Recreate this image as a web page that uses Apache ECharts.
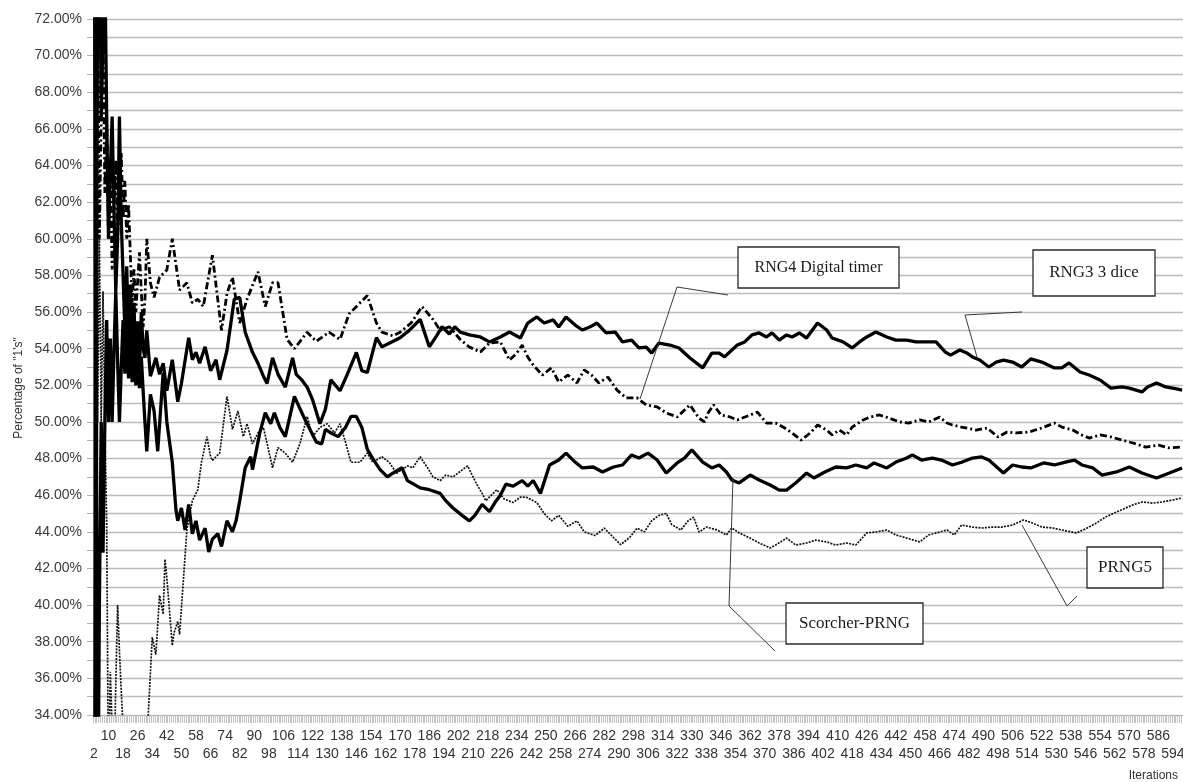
<!DOCTYPE html>
<html>
<head>
<meta charset="utf-8">
<title>Percentage of "1's"</title>
<script src="https://cdn.jsdelivr.net/npm/echarts@6/dist/echarts.min.js"></script>
<style>
  html, body { margin: 0; padding: 0; background: #fff; }
  #chart { width: 1183px; height: 782px; }
</style>
</head>
<body>
<div id="chart"></div>
<script>
// iterations shown on the x axis (one category per iteration)
const firstIteration = 2;
const lastIteration = 599;
const iterations = [];
for (let i = firstIteration; i <= lastIteration; i++) iterations.push(String(i));

// percentage of 1's as [iteration, percent]
const rng3 = [
  [2,100],[3,33.33],[4,75],[5,80],[6,66.67],[7,71.43],[8,75],[9,66.67],[10,60],[11,63.64],[12,66.67],[13,61.54],[14,57.14],[15,60],[16,66.67],[17,61],[18,58],[19,55],[20,58.5],[21,54],[22,57.5],[23,53],[24,56.5],[25,52.5],[26,55.5],[27,53],[28,56],[29,54],[30,53.5],[31,55],[33,52.5],[36,53.5],[38,52.6],[40,53.2],[42,51.7],[45,53.4],[48,51.1],[50,52.1],[54,54.6],[56,53.4],[58,53.8],[60,53.2],[63,54.1],[66,52.8],[69,53.4],[71,52.3],[75,53.9],[79,56.7],[82,56.8],[85,54.9],[89,53.8],[92,53.2],[95,52.5],[97,52.1],[100,53.5],[103,52.6],[107,51.9],[111,53.5],[113,52.6],[116,52.3],[119,51.9],[122,51.2],[126,49.9],[129,50.7],[132,52.3],[137,51.7],[141,52.6],[146,53.8],[149,52.8],[152,52.7],[157,54.6],[160,54.1],[164,54.3],[170,54.6],[175,55.0],[181,55.6],[186,54.1],[190,54.7],[193,55.2],[197,54.8],[200,55.2],[203,54.9],[208,54.75],[214,54.64],[219,54.37],[225,54.64],[230,54.91],[236,54.58],[240,55.4],[245,55.73],[249,55.4],[254,55.57],[257,55.18],[261,55.73],[266,55.29],[270,55.02],[274,55.18],[278,55.4],[283,54.86],[288,54.91],[292,54.37],[297,54.47],[301,54.04],[305,54.09],[308,53.76],[312,54.31],[318,54.2],[323,54.04],[329,53.49],[336,52.95],[341,53.76],[345,53.76],[348,53.55],[352,53.93],[355,54.2],[359,54.37],[363,54.75],[367,54.86],[371,54.64],[374,54.86],[378,54.47],[382,54.75],[385,54.64],[389,54.86],[393,54.58],[399,55.4],[404,55.02],[407,54.58],[413,54.37],[418,54.04],[422,54.37],[426,54.64],[431,54.91],[437,54.64],[442,54.47],[448,54.47],[453,54.37],[459,54.37],[464,54.37],[469,53.82],[472,53.65],[477,53.93],[481,53.76],[484,53.55],[488,53.38],[493,53.0],[497,53.27],[501,53.38],[506,53.27],[511,53.0],[516,53.44],[522,53.27],[529,52.95],[533,52.95],[537,53.22],[543,52.73],[548,52.56],[554,52.29],[560,51.85],[566,51.91],[570,51.85],[577,51.64],[580,51.91],[585,52.13],[590,51.91],[596,51.8],[599,51.74]
];
const scorcher = [
  [2,0],[3,66.67],[4,25],[5,40],[6,50],[7,42.86],[8,50],[9,55.56],[10,50],[11,54.55],[12,50],[13,53.85],[14,57.14],[15,53.33],[16,50],[17,52.94],[18,55.56],[19,52.63],[20,55],[21,52.38],[22,54.55],[23,52.17],[24,54.17],[25,52],[26,53.85],[27,51.85],[28,53.57],[29,51.72],[30,50],[31,48.39],[33,51.5],[35,50.6],[37,48.4],[40,52.7],[42,50],[45,47.8],[47,45.2],[48,44.6],[50,45.3],[52,44.1],[54,45.5],[56,43.9],[58,44.6],[60,43.55],[63,44.2],[65,42.9],[67,43.6],[70,43.9],[72,43.2],[75,44.6],[78,44.0],[80,44.6],[82,45.7],[85,47.5],[88,48.1],[89,47.4],[93,49.4],[96,50.5],[99,49.9],[101,50.5],[104,49.7],[107,49.2],[112,51.4],[117,50.3],[120,49.7],[124,48.9],[127,48.8],[129,49.6],[132,49.4],[136,49.2],[140,49.7],[143,50.3],[146,50.3],[149,49.7],[152,48.5],[155,48.0],[159,47.4],[163,47.0],[166,47.2],[171,47.5],[174,46.8],[181,46.4],[186,46.3],[192,46.1],[195,45.7],[199,45.3],[204,44.9],[208,44.6],[211,44.9],[215,45.5],[219,45.1],[222,45.6],[225,46.0],[228,46.6],[232,46.5],[237,46.8],[240,46.5],[243,46.8],[247,46.1],[252,47.65],[257,47.92],[261,48.3],[266,47.81],[270,47.49],[276,47.54],[281,47.27],[287,47.54],[292,47.65],[297,48.2],[301,48.03],[306,48.3],[311,47.92],[316,47.21],[322,47.76],[326,48.03],[330,48.47],[336,47.81],[341,47.49],[345,47.65],[349,47.27],[352,46.83],[356,46.67],[362,47.1],[367,46.83],[373,46.56],[378,46.28],[382,46.28],[387,46.67],[393,47.21],[397,46.94],[403,47.27],[409,47.54],[415,47.49],[420,47.65],[426,47.49],[430,47.76],[437,47.49],[442,47.81],[448,48.03],[451,48.2],[456,47.92],[462,48.03],[467,47.92],[473,47.65],[478,47.8],[484,48.03],[489,48.09],[493,47.92],[501,47.21],[506,47.65],[511,47.54],[516,47.49],[523,47.76],[529,47.65],[535,47.81],[540,47.92],[544,47.65],[550,47.49],[555,47.1],[563,47.27],[570,47.54],[577,47.21],[585,46.94],[592,47.21],[599,47.49]
];
const rng4 = [
  [2,100],[3,66.67],[4,75],[5,60],[6,66.67],[7,71.43],[8,62.5],[9,66.67],[10,60],[11,63.64],[12,58.33],[13,61.54],[14,64.29],[15,60],[16,62.5],[17,64.71],[18,61.11],[19,63.16],[20,60],[21,61.9],[22,59.09],[23,56.52],[24,58.33],[25,56],[26,57.69],[27,59.26],[28,57.14],[29,55.17],[30,56.67],[31,60],[33,57.6],[35,56.8],[38,57.9],[42,58.3],[45,60],[49,57.2],[53,57.6],[56,56.5],[59,56.7],[62,56.3],[67,59.1],[72,55],[75,57],[78,57.9],[82,55.4],[86,56.7],[92,58.2],[96,56.3],[100,57.6],[103,57.6],[108,54.5],[112,54],[119,54.9],[124,54.4],[131,54.9],[137,54.5],[142,55.9],[152,56.9],[157,55.4],[160,54.9],[166,54.7],[170,54.9],[176,55.4],[182,56.3],[188,55.6],[192,55],[197,55.2],[203,54.5],[208,54.09],[214,53.82],[219,54.31],[225,54.37],[230,53.38],[234,53.76],[237,54.2],[240,53.55],[243,53.11],[248,52.56],[253,52.95],[257,52.18],[262,52.56],[267,52.13],[271,52.84],[275,52.56],[279,52.13],[284,52.45],[289,51.74],[294,51.31],[300,51.31],[305,50.93],[311,50.82],[316,50.49],[322,50.27],[329,50.93],[334,50.2],[337,50],[339,50.5],[342,50.93],[346,50.38],[351,50.27],[355,50.11],[362,50.38],[366,50.54],[371,49.94],[376,49.94],[381,49.67],[385,49.4],[390,49.01],[395,49.4],[399,49.83],[404,49.56],[407,49.29],[411,49.56],[415,49.29],[418,49.72],[424,50.11],[428,50.27],[433,50.38],[438,50.22],[444,50],[449,49.94],[455,50.11],[460,50],[466,50.27],[470,49.94],[473,49.83],[478,49.72],[486,49.56],[492,49.67],[498,49.18],[503,49.45],[508,49.4],[515,49.45],[522,49.67],[529,49.94],[533,49.72],[539,49.56],[544,49.29],[548,49.12],[554,49.29],[560,49.18],[566,49.01],[572,48.85],[579,48.63],[586,48.74],[592,48.58],[599,48.63]
];
const prng5 = [
  [2,100],[3,66.67],[4,50],[5,60],[6,50],[7,57.14],[8,50],[9,44.44],[10,30],[11,36.36],[12,33.33],[13,30.77],[14,35.71],[15,40],[16,37.5],[17,35.29],[18,33.33],[19,31.58],[22,31.82],[25,32],[28,32.14],[31,32.26],[32,34.38],[34,38.24],[36,37.3],[38,40.54],[40,39.5],[41,42.5],[42,41.5],[45,37.8],[46,38.5],[48,39.1],[49,38.4],[53,44.1],[56,45.7],[59,46.3],[61,47.8],[64,49.2],[66,48.1],[67,47.9],[69,48.1],[71,48.3],[75,51.4],[78,49.6],[81,50.6],[84,49.2],[86,49.9],[89,48.8],[92,49.4],[95,49.7],[100,47.5],[103,48.6],[107,48.3],[111,47.8],[115,48.8],[119,50.3],[122,49.2],[126,49.7],[130,49.9],[134,49.4],[137,49.9],[140,48.9],[143,47.8],[148,47.8],[152,48.3],[155,47.8],[160,48.1],[164,47.8],[168,47.2],[174,47.6],[177,47.5],[181,48.1],[185,47.5],[188,47.0],[192,46.8],[195,47.1],[199,47.0],[203,47.3],[207,47.6],[210,47.0],[212,46.6],[215,46.1],[217,45.7],[223,46.3],[227,45.8],[232,45.6],[236,45.9],[239,45.9],[245,45.6],[249,45.0],[253,44.6],[257,44.9],[262,44.3],[267,44.6],[271,44.0],[277,43.8],[282,44.2],[287,43.7],[291,43.3],[296,43.7],[300,44.2],[304,44.0],[308,44.6],[312,44.9],[316,45.0],[319,44.4],[324,44.1],[328,44.6],[331,44.8],[334,43.99],[338,44.26],[344,44.1],[349,43.83],[352,44.21],[356,43.94],[362,43.66],[367,43.39],[373,43.12],[376,43.28],[382,43.66],[387,43.28],[393,43.39],[398,43.55],[404,43.45],[409,43.28],[415,43.39],[420,43.28],[426,43.94],[431,43.99],[437,44.1],[442,43.83],[448,43.66],[455,43.45],[460,43.83],[466,43.99],[470,44.1],[474,43.83],[478,44.37],[484,44.26],[489,44.21],[495,44.26],[500,44.26],[506,44.37],[512,44.65],[517,44.48],[522,44.26],[528,44.21],[533,44.1],[541,43.94],[546,44.16],[552,44.48],[557,44.81],[563,45.08],[568,45.3],[572,45.47],[577,45.63],[583,45.57],[588,45.63],[594,45.74],[599,45.85]
];

// y axis: 34% .. 72%, gridline each 1%, label each 2%
const yMin = 34, yMax = 72;

// callout boxes with their leader lines (pixel layout)
const callouts = [
  { text: 'RNG4 Digital timer', box: [738, 247, 161, 41], size: 16, line: [[640, 399], [677, 287], [728, 295]] },
  { text: 'RNG3 3 dice', box: [1033, 250, 122, 46], size: 17, line: [[977, 357], [965, 315], [1022, 312]] },
  { text: 'Scorcher-PRNG', box: [786, 603, 137, 41], size: 17, line: [[733, 478], [729, 606], [775, 651]] },
  { text: 'PRNG5', box: [1087, 547, 76, 41], size: 17, line: [[1022, 525], [1067, 606], [1077, 596]] }
];

function toPoints(arr) {
  return arr.map(p => [p[0] - firstIteration, p[1]]);
}

const graphics = [];
callouts.forEach(c => {
  graphics.push({
    type: 'polyline',
    z: 100,
    shape: { points: c.line },
    style: { stroke: '#3a3a3a', lineWidth: 1, fill: null }
  });
  graphics.push({
    type: 'rect',
    z: 101,
    shape: { x: c.box[0], y: c.box[1], width: c.box[2], height: c.box[3] },
    style: { fill: '#fff', stroke: '#2a2a2a', lineWidth: 1.3 }
  });
  graphics.push({
    type: 'text',
    z: 102,
    x: c.box[0] + c.box[2] / 2,
    y: c.box[1] + c.box[3] / 2,
    style: {
      text: c.text,
      align: 'center',
      verticalAlign: 'middle',
      font: c.size + 'px "Liberation Serif", "DejaVu Serif", serif',
      fill: '#1a1a1a'
    }
  });
});
graphics.push({
  type: 'text',
  x: 19,
  y: 388,
  rotation: Math.PI / 2,
  style: {
    text: 'Percentage of "1\'s"',
    align: 'center',
    verticalAlign: 'middle',
    font: '12px "Liberation Sans", Arial, sans-serif',
    fill: '#333'
  }
});
graphics.push({
  type: 'text',
  x: 1178,
  y: 776,
  style: {
    text: 'Iterations',
    align: 'right',
    verticalAlign: 'middle',
    font: '12px "Liberation Sans", Arial, sans-serif',
    fill: '#333'
  }
});

const myChart = echarts.init(document.getElementById('chart'), null, { renderer: 'canvas' });
myChart.setOption({
  animation: false,
  backgroundColor: '#fff',
  grid: { left: 93, right: 0, top: 19, bottom: 67, containLabel: false, outerBoundsMode: 'none' },
  xAxis: {
    type: 'category',
    data: iterations,
    boundaryGap: true,
    axisLine: { show: true, lineStyle: { color: '#b0b0b0', width: 1 } },
    axisTick: { show: true, interval: 0, length: 8, lineStyle: { color: '#c4c4c4', width: 1 } },
    axisLabel: {
      interval: 7,
      showMinLabel: true,
      showMaxLabel: true,
      hideOverlap: false,
      margin: 12,
      fontSize: 14,
      lineHeight: 18,
      color: '#333',
      fontFamily: '"Liberation Sans", Arial, sans-serif',
      formatter: (value, index) => {
        if (index % 8 !== 0) return '';
        return index % 16 === 0 ? '\n' + value : value;
      }
    },
    splitLine: { show: false }
  },
  yAxis: {
    type: 'value',
    min: yMin,
    max: yMax,
    interval: 1,
    axisLine: { show: false },
    axisTick: { show: true, length: 6, lineStyle: { color: '#b4b4b4' } },
    axisLabel: {
      margin: 11,
      fontSize: 14,
      color: '#3a3a3a',
      fontFamily: '"Liberation Sans", Arial, sans-serif',
      formatter: v => (Math.round(v) % 2 === 0 ? v.toFixed(2) + '%' : '')
    },
    splitLine: { show: true, lineStyle: { color: '#bcbcbc', width: 1.4 } }
  },
  series: [
    {
      name: 'PRNG5',
      type: 'line',
      data: toPoints(prng5),
      showSymbol: false,
      clip: true,
      lineStyle: { color: '#111', width: 1.7, type: [2, 1.2] }
    },
    {
      name: 'RNG4 Digital timer',
      type: 'line',
      data: toPoints(rng4),
      showSymbol: false,
      clip: true,
      lineStyle: { color: '#000', width: 2.8, type: [7, 3, 2, 3] }
    },
    {
      name: 'Scorcher-PRNG',
      type: 'line',
      data: toPoints(scorcher),
      showSymbol: false,
      clip: true,
      lineStyle: { color: '#000', width: 3.3 }
    },
    {
      name: 'RNG3 3 dice',
      type: 'line',
      data: toPoints(rng3),
      showSymbol: false,
      clip: true,
      lineStyle: { color: '#000', width: 3.3 }
    }
  ],
  graphic: graphics
});
</script>
</body>
</html>
